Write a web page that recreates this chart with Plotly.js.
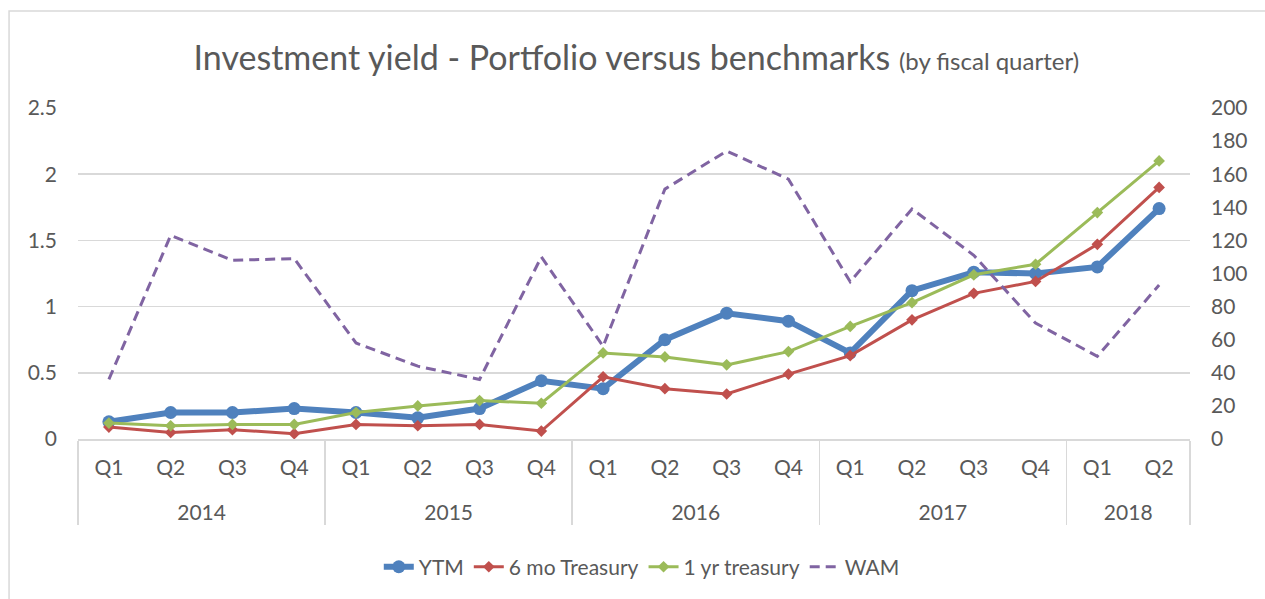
<!DOCTYPE html>
<html>
<head>
<meta charset="utf-8">
<script src="https://cdn.plot.ly/plotly-3.0.1.min.js"></script>
<style>
html,body{margin:0;padding:0;background:#fff;}
#chart{width:1265px;height:599px;}
</style>
</head>
<body>
<div id="chart"></div>
<script>
// Tick labels (two-level category axis)
const yearLabels = ["2014","2014","2014","2014","2015","2015","2015","2015","2016","2016","2016","2016","2017","2017","2017","2017","2018","2018"];
const quarterLabels = ["Q1","Q2","Q3","Q4","Q1","Q2","Q3","Q4","Q1","Q2","Q3","Q4","Q1","Q2","Q3","Q4","Q1","Q2"];

// Series values
const ytm   = [0.13,0.20,0.20,0.23,0.20,0.16,0.23,0.44,0.38,0.75,0.95,0.89,0.65,1.12,1.26,1.25,1.30,1.74];
const sixMo = [0.09,0.05,0.07,0.04,0.11,0.10,0.11,0.06,0.47,0.38,0.34,0.49,0.63,0.90,1.10,1.19,1.47,1.90];
const oneYr = [0.12,0.10,0.11,0.11,0.20,0.25,0.29,0.27,0.65,0.62,0.56,0.66,0.85,1.03,1.24,1.32,1.71,2.10];
const wam   = [36,123,108,109,58,44,36,110,56,151,174,157,95,139,111,70,50,93];

// quarter row is given an extra blank line so the year row sits lower, as in the original
const x = [yearLabels, quarterLabels.map(q => q + "<br> ")];
const FONT = "Lato, 'Open Sans', sans-serif";
const GREY = "#595959";

const traces = [
  {x:x, y:ytm, name:"YTM", type:"scatter", mode:"lines+markers",
   line:{color:"#4F81BD", width:6}, marker:{symbol:"circle", size:13, color:"#4F81BD"}},
  {x:x, y:sixMo, name:"6 mo Treasury", type:"scatter", mode:"lines+markers",
   line:{color:"#C0504D", width:3}, marker:{symbol:"diamond", size:9, color:"#C0504D"}},
  {x:x, y:oneYr, name:"1 yr treasury", type:"scatter", mode:"lines+markers",
   line:{color:"#9BBB59", width:3}, marker:{symbol:"diamond", size:9, color:"#9BBB59"}},
  {x:x, y:wam, name:"WAM", type:"scatter", mode:"lines", yaxis:"y2",
   line:{color:"#8064A2", width:3, dash:"10px,6px"}}
];

const layout = {
  width:1265, height:599,
  margin:{l:78, r:75, t:108, b:160},
  paper_bgcolor:"#fff", plot_bgcolor:"#fff",
  font:{family:FONT, color:GREY, size:21},
  title:{text:"Investment yield - Portfolio versus benchmarks <span style='font-size:24px'>(by fiscal quarter)</span>",
         font:{family:FONT, size:34, color:GREY}, x:0.503, xanchor:"center", y:0.903, yanchor:"middle"},
  xaxis:{type:"multicategory", range:[-0.5,17.5], autorange:false,
         showline:true, linecolor:"#d9d9d9", linewidth:1.5,
         showgrid:false, ticks:"", showdividers:true, dividercolor:"#d9d9d9", dividerwidth:1.5,
         ticklabelstandoff:9,
         tickfont:{family:FONT, size:21, color:GREY}},
  yaxis:{range:[0,2.5], dtick:0.5, showgrid:true, gridcolor:"#d9d9d9", gridwidth:1.5,
         zeroline:false, showline:false, ticks:"", ticklabelstandoff:20,
         tickfont:{family:FONT, size:21, color:GREY}},
  yaxis2:{range:[0,200], dtick:20, overlaying:"y", side:"right", showgrid:false,
          zeroline:false, showline:false, ticks:"", ticklabelstandoff:20,
          tickfont:{family:FONT, size:21, color:GREY}},
  legend:{orientation:"h", x:0.507, xanchor:"center", y:-0.387, yanchor:"middle",
          font:{family:FONT, size:21, color:GREY}, traceorder:"normal"},
  showlegend:true,
  shapes:[{type:"rect", xref:"paper", yref:"paper", x0:-0.062, x1:1.3, y0:-0.7, y1:1.293,
           line:{color:"#d9d9d9", width:1.5}, fillcolor:"rgba(0,0,0,0)", layer:"below"}]
};

Plotly.newPlot("chart", traces, layout, {displayModeBar:false, staticPlot:true});
</script>
</body>
</html>
